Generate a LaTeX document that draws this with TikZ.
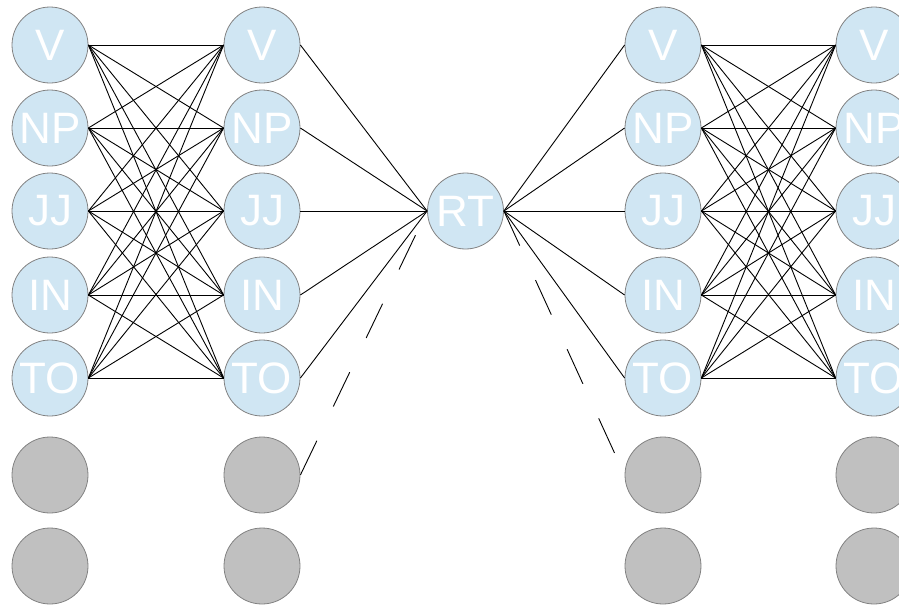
\documentclass[tikz,border=0pt]{standalone}
\usepackage{fontspec}
\setmainfont{Liberation Sans}
\definecolor{tagblue}{RGB}{208,230,243}
\definecolor{blankgray}{RGB}{192,192,192}
\definecolor{rimgray}{RGB}{130,130,130}
\begin{document}
\begin{tikzpicture}[x=1pt,y=-1pt,
  tag/.style={circle,draw=rimgray,line width=0.8pt,fill=tagblue,minimum size=76pt,
    inner sep=0pt,text=white,font=\fontsize{44}{44}\selectfont},
  blank/.style={circle,draw=rimgray,line width=0.8pt,fill=blankgray,minimum size=76pt,inner sep=0pt},
  link/.style={black,line width=0.9pt},
  guess/.style={link,dash pattern=on 38pt off 38pt}]
\useasboundingbox (0,0) rectangle (899,606);

% four columns of tag nodes, each with two empty slots below
\foreach \c/\x in {a/50,b/262,c/663,d/874}{
  \foreach \t/\y [count=\i] in {V/45,NP/128,JJ/211,IN/295,TO/378}
    \node[tag] (\c\i) at (\x,\y) {\t};
  \node[blank] (\c6) at (\x,475) {};
  \node[blank] (\c7) at (\x,566) {};
}

% central node
\node[tag] (rt) at (465.5,211) {RT};

% fully connected layers on both sides
\foreach \i in {1,...,5}
  \foreach \j in {1,...,5}{
    \draw[link] (a\i.east) -- (b\j.west);
    \draw[link] (c\i.east) -- (d\j.west);
  }

% links into and out of the central node
\foreach \i in {1,...,5}{
  \draw[link] (b\i.east) -- (rt.west);
  \draw[link] (rt.east) -- (c\i.west);
}
\draw[guess] (b6.east) -- (rt.west);
\draw[guess] (rt.east) -- (c6.west);
\end{tikzpicture}
\end{document}
